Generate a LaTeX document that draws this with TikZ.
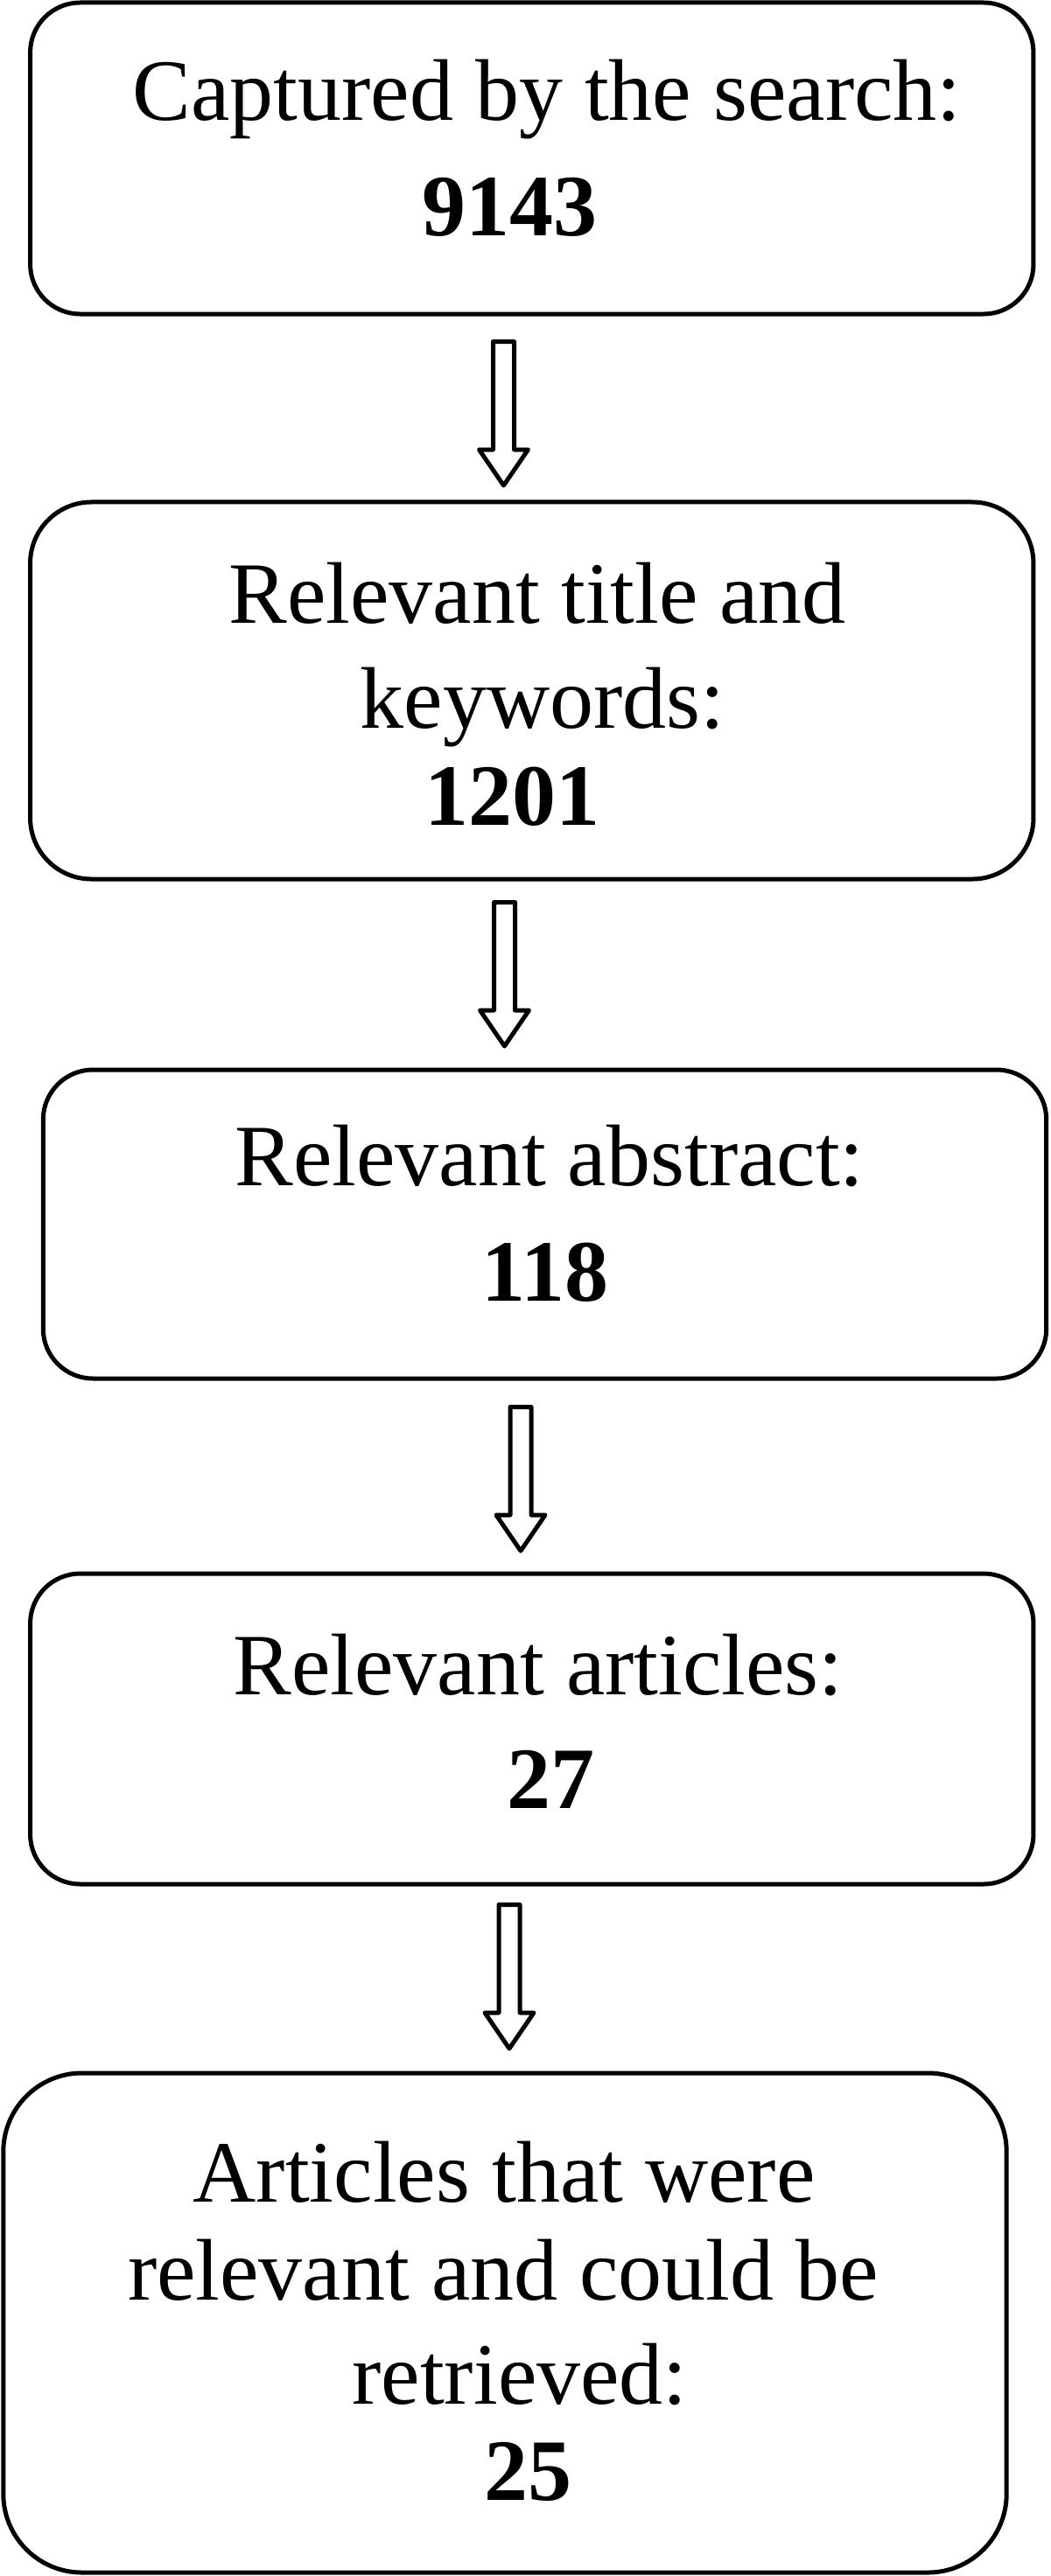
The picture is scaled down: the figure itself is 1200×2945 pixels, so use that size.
\documentclass[tikz,border=0pt]{standalone}
\usepackage{fontspec}
\setmainfont{Liberation Serif}
\usepackage{tikz}
\usetikzlibrary{positioning}
\newcommand{\boxfont}{\fontsize{71.13pt}{85pt}\selectfont}

\begin{document}
\begin{tikzpicture}[x=0.25mm,y=-0.25mm]
  \tikzset{
    flowbox/.style={
      rectangle,
      draw=black,
      line width=1.25mm,
      minimum width=286.6mm,
      minimum height=#1,
      inner sep=0pt,
    },
    flowbox/.default=89mm,
    boxtext/.style={anchor=base, inner sep=0pt, font=\boxfont},
    boxnum/.style={boxtext, font=\boxfont\bfseries},
    hollow/.style={draw=black, line width=1.25mm, line join=round, fill=white}
  }
  \useasboundingbox (0,0) rectangle (1200,2945);

  \node[flowbox=89mm, rounded corners=14.25mm] (b1) at (607.75,181) {};
  \node[flowbox=107.75mm, rounded corners=17.5mm] (b2) at (607.75,789.5) {};
  \node[flowbox=88.25mm, rounded corners=14.25mm] (b3) at (622.5,1399.5) {};
  \node[flowbox=88.75mm, rounded corners=14.25mm] (b4) at (607.75,1976.5) {};
  \node[flowbox=142.75mm, rounded corners=22.5mm] (b5) at (577,2655.5) {};

  \node[boxtext] (t1a) at (625,138) {Captured by the search:};
  \node[boxnum]  (t1b) at (582,270) {9143};

  \node[boxtext] (t2a) at (614,712) {Relevant title and};
  \node[boxtext] (t2b) at (620,832) {keywords:};
  \node[boxnum]  (t2c) at (585,943) {1201};

  \node[boxtext] (t3a) at (628,1355) {Relevant abstract:};
  \node[boxnum]  (t3b) at (623,1487) {118};

  \node[boxtext] (t4a) at (615,1937) {Relevant articles:};
  \node[boxnum]  (t4b) at (629,2067) {27};

  \node[boxtext] (t5a) at (576,2517) {Articles that were};
  \node[boxtext] (t5b) at (575,2629) {relevant and could be};
  \node[boxtext] (t5c) at (594,2748) {retrieved:};
  \node[boxnum]  (t5d) at (603,2858) {25};

  \foreach \x/\y [count=\i] in {575.5/390.5, 576.5/1031.5, 595/1608.5, 582/2177.5} {
    \coordinate (a\i) at (\x,\y);
    \draw[hollow] (a\i) ++(-12,0) -- ++(0,123.5) -- ++(-16,0) -- ++(28,41)
      -- ++(28,-41) -- ++(-16,0) -- ++(0,-123.5) -- cycle;
  }

\end{tikzpicture}
\end{document}
